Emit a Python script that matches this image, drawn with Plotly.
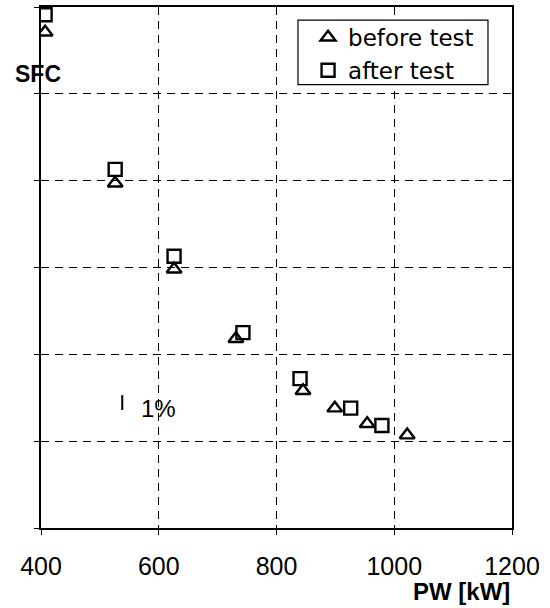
import plotly.graph_objects as go

# Data (SFC in relative grid units, 1 unit per grid division)
before_pw = [407, 526, 626, 731, 845, 899, 954, 1022]
before_sfc = [5.71, 3.97, 2.98, 2.18, 1.58, 1.38, 1.20, 1.07]
after_pw = [407, 526, 626, 743, 840, 926, 979]
after_sfc = [5.91, 4.13, 3.13, 2.25, 1.72, 1.38, 1.18]

x_ticks = [400, 600, 800, 1000, 1200]
y_grid = [0, 1, 2, 3, 4, 5, 6]

FONT = "Liberation Sans, Arial, Helvetica, sans-serif"
LEG_FONT = "DejaVu Sans, Liberation Sans, Arial, sans-serif"

fig = go.Figure()
fig.add_trace(go.Scatter(
    x=before_pw, y=before_sfc, mode="markers", name="before test",
    marker=dict(symbol="triangle-up-open", size=13, color="black",
                line=dict(width=2.4, color="black")),
))
fig.add_trace(go.Scatter(
    x=after_pw, y=after_sfc, mode="markers", name="after test",
    marker=dict(symbol="square-open", size=13, color="black",
                line=dict(width=2.4, color="black")),
))

# 1% scale bar
fig.add_shape(type="line", x0=538, x1=538, y0=1.36, y1=1.53,
              xref="x", yref="y", line=dict(color="black", width=2))
fig.add_annotation(x=566, y=1.38, xref="x", yref="y", text="1%",
                   showarrow=False, xanchor="left", yanchor="middle",
                   font=dict(family=FONT, size=24, color="black"))

# Legend frame (white box over the grid)
fig.add_shape(type="rect", xref="paper", yref="paper",
              x0=0.5456, x1=0.949, y0=0.851, y1=0.975,
              fillcolor="white", line=dict(color="black", width=1.2),
              layer="above")

fig.add_annotation(x=-0.0594, y=0.872, xref="paper", yref="paper", text="<b>SFC</b>",
                   showarrow=False, xanchor="left", yanchor="middle",
                   font=dict(family=FONT, size=23, color="black"))

fig.add_annotation(x=1.0, y=-0.1224, xref="paper", yref="paper", text="<b>PW [kW]</b>",
                   showarrow=False, xanchor="right", yanchor="middle",
                   font=dict(family=FONT, size=24, color="black"))

fig.update_layout(
    width=550, height=608,
    margin=dict(l=41, r=38, t=5, b=80),
    plot_bgcolor="white", paper_bgcolor="white",
    font=dict(family=FONT, color="black"),
    showlegend=True,
    legend=dict(x=0.567, y=0.983, xanchor="left", yanchor="top",
                bgcolor="rgba(0,0,0,0)", borderwidth=0,
                font=dict(family=LEG_FONT, size=23, color="black"),
                tracegroupgap=0, itemwidth=30),
    xaxis=dict(range=[400, 1200], tickvals=x_ticks, ticktext=[str(v) for v in x_ticks],
               showline=True, linecolor="black", linewidth=1.8, mirror=True,
               ticks="outside", ticklen=5, tickcolor="black",
               ticklabelstandoff=10,
               showgrid=True, gridcolor="black", gridwidth=1.2, griddash="8px,6px",
               zeroline=False, tickfont=dict(family=FONT, size=25, color="black")),
    yaxis=dict(range=[0, 6], tickvals=y_grid, showticklabels=False,
               showline=True, linecolor="black", linewidth=1.8, mirror=True,
               ticks="outside", ticklen=5, tickcolor="black",
               showgrid=True, gridcolor="black", gridwidth=1.2, griddash="8px,6px",
               zeroline=False),
)

fig.write_html("out.html", config={"displayModeBar": False},
               post_script="document.body.style.margin='0';")
